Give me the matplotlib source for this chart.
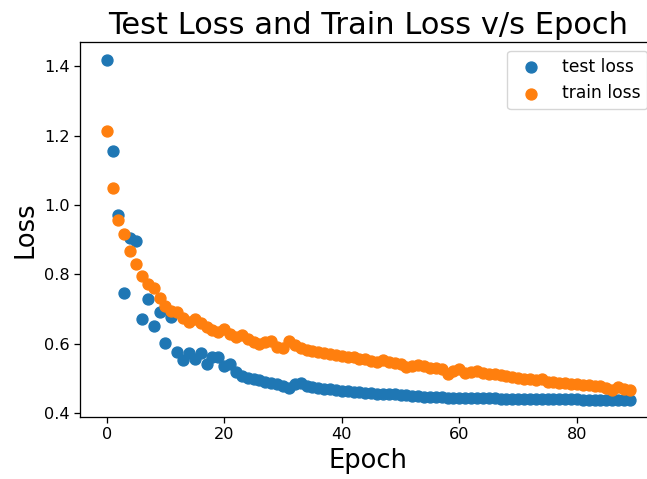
import matplotlib
matplotlib.use("Agg")
import matplotlib.pyplot as plt

epochs = list(range(90))

test_loss = [
    1.420, 1.155, 0.972, 0.745, 0.905, 0.895, 0.670, 0.728, 0.652, 0.692,
    0.602, 0.676, 0.575, 0.553, 0.573, 0.556, 0.573, 0.540, 0.560, 0.562,
    0.534, 0.540, 0.517, 0.507, 0.500, 0.497, 0.494, 0.489, 0.485, 0.482,
    0.477, 0.471, 0.482, 0.485, 0.476, 0.475, 0.472, 0.469, 0.468, 0.466,
    0.464, 0.462, 0.461, 0.459, 0.458, 0.457, 0.455, 0.454, 0.453, 0.453,
    0.451, 0.450, 0.449, 0.449, 0.447, 0.446, 0.445, 0.445, 0.444, 0.444,
    0.444, 0.443, 0.443, 0.443, 0.442, 0.442, 0.442, 0.441, 0.441, 0.441,
    0.441, 0.440, 0.440, 0.440, 0.440, 0.440, 0.439, 0.439, 0.439, 0.439,
    0.439, 0.438, 0.438, 0.438, 0.438, 0.438, 0.438, 0.437, 0.437, 0.437,
]

train_loss = [
    1.215, 1.048, 0.958, 0.916, 0.866, 0.830, 0.796, 0.772, 0.760, 0.731,
    0.709, 0.695, 0.690, 0.675, 0.661, 0.671, 0.658, 0.649, 0.639, 0.634,
    0.642, 0.627, 0.620, 0.624, 0.614, 0.605, 0.600, 0.603, 0.606, 0.590,
    0.586, 0.606, 0.595, 0.588, 0.582, 0.578, 0.576, 0.572, 0.570, 0.568,
    0.565, 0.562, 0.560, 0.556, 0.554, 0.550, 0.548, 0.552, 0.546, 0.544,
    0.541, 0.533, 0.534, 0.538, 0.534, 0.530, 0.528, 0.526, 0.512, 0.520,
    0.527, 0.515, 0.519, 0.521, 0.516, 0.513, 0.511, 0.508, 0.505, 0.503,
    0.501, 0.499, 0.497, 0.494, 0.498, 0.490, 0.488, 0.487, 0.485, 0.484,
    0.483, 0.481, 0.479, 0.476, 0.477, 0.472, 0.466, 0.475, 0.470, 0.467,
]

fig = plt.figure(figsize=(6.47, 4.79), dpi=100)
ax = fig.add_axes([0.1244, 0.1294, 1.0139 - 0.1244, 0.9113 - 0.1294])
ax.scatter(epochs, test_loss, s=62, color="#1f77b4", label="test loss")
ax.scatter(epochs, train_loss, s=62, color="#ff7f0e", label="train loss")
ax.set_title("Test Loss and Train Loss v/s Epoch", fontsize=22)
ax.set_xlabel("Epoch", fontsize=18.5)
ax.set_ylabel("Loss", fontsize=18.5)
ax.tick_params(labelsize=11.6, length=4, width=0.93)
for sp in ax.spines.values():
    sp.set_linewidth(0.93)
ax.legend(loc="upper right", fontsize=12.3)
fig.savefig("out.png", dpi=100)
